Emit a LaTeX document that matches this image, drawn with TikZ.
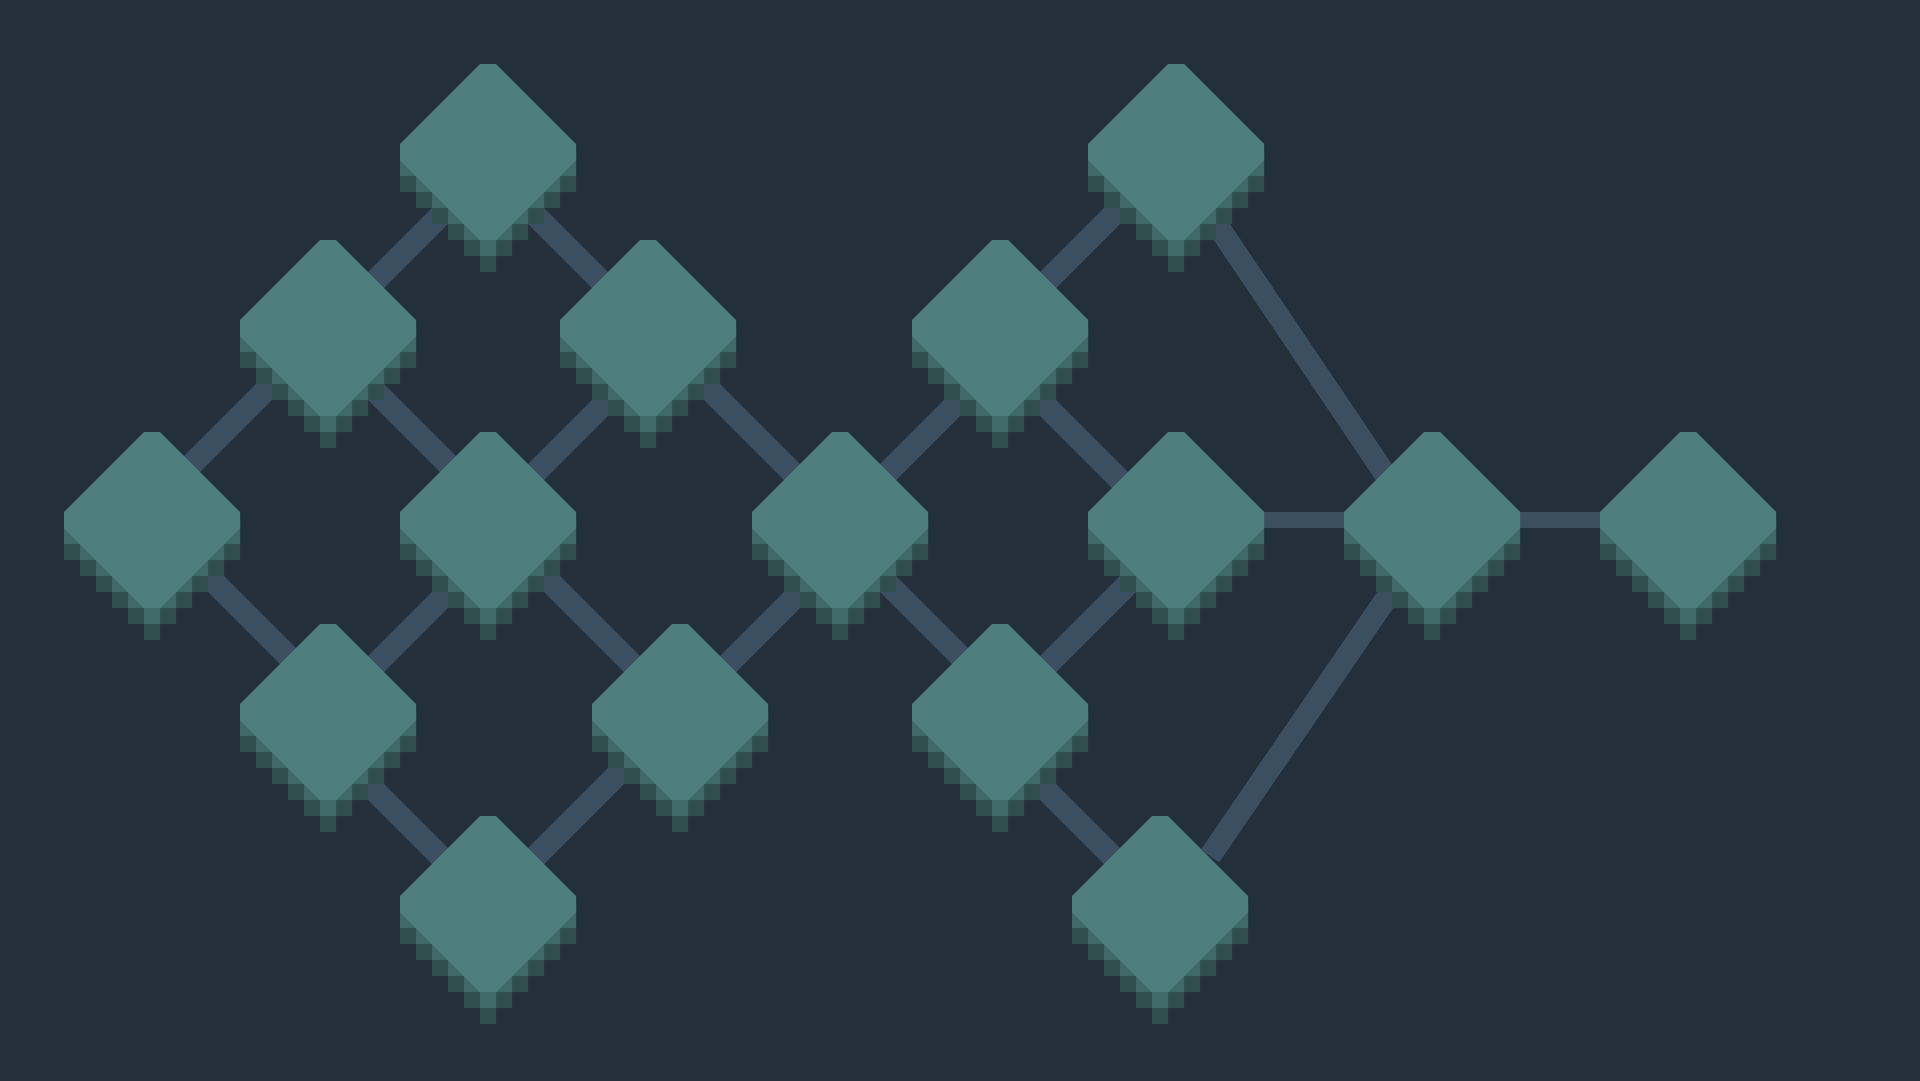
\documentclass[tikz,border=0pt]{standalone}
\usetikzlibrary{calc}
\definecolor{bgCol}{HTML}{232F3B}
\definecolor{linkCol}{HTML}{3B4F61}
\definecolor{tileFace}{HTML}{4E7F7E}
\definecolor{tileMid}{HTML}{3F6A69}
\definecolor{tileDark}{HTML}{2F4E4C}
\begin{document}
\begin{tikzpicture}[x=1pt, y=-1pt,
        link/.style={line width=22.6pt, draw=linkCol},
        flatlink/.style={line width=16pt, draw=linkCol}]
        \useasboundingbox (0,0) rectangle (1920,1080);
        \fill[bgCol] (-4,-4) rectangle (1924,1084);

        \foreach \v/\x/\y in
        {cD1Pt/488/152, cD2Pt/328/328, cD3Pt/648/328, cD4Pt/152/520,
            cD5Pt/488/520, cD6Pt/840/520, cD7Pt/328/712, cD8Pt/680/712,
            cD9Pt/488/904, cD10Pt/1176/152, cD11Pt/1000/328, cD12Pt/1176/520,
            cD13Pt/1000/712, cD14Pt/1160/904, cD15Pt/1432/520, cD16Pt/1688/520
        }
        {
            \coordinate (\v) at (\x,\y);
        };

        % links of the left lattice
        \draw[link] (cD2Pt) -- ($(cD1Pt)+(16,0)$);
        \draw[link] (cD3Pt) -- ($(cD1Pt)+(-16,0)$);
        \draw[link] (cD2Pt) -- ($(cD4Pt)+(-16,0)$);
        \draw[link] ($(cD2Pt)+(-16,0)$) -- ($(cD5Pt)+(16,0)$);
        \draw[link] (cD5Pt) -- ($(cD3Pt)+(32,0)$);
        \draw[link] (cD3Pt) -- (cD6Pt);
        \draw[link] (cD4Pt) -- ($(cD7Pt)+(16,0)$);
        \draw[link] (cD7Pt) -- ($(cD5Pt)+(32,0)$);
        \draw[link] (cD5Pt) -- (cD8Pt);
        \draw[link] (cD8Pt) -- ($(cD6Pt)+(32,0)$);
        \draw[link] (cD9Pt) -- ($(cD7Pt)+(-32,0)$);
        \draw[link] (cD8Pt) -- (cD9Pt);

        % links of the right part
        \draw[link] (cD6Pt) -- ($(cD11Pt)+(32,0)$);
        \draw[link] ($(cD6Pt)+(-16,0)$) -- ($(cD13Pt)+(16,0)$);
        \draw[link] (cD10Pt) -- (cD11Pt);
        \draw[link] ($(cD11Pt)+(-32,0)$) -- ($(cD12Pt)+(-16,0)$);
        \draw[link] (cD13Pt) -- ($(cD12Pt)+(16,0)$);
        \draw[link] (cD14Pt) -- ($(cD13Pt)+(-32,0)$);
        \draw[link, line width=22.2pt] ($(cD10Pt)+(-8,0)$) -- ($(cD15Pt)+(-16,0)$);
        \draw[flatlink] (cD12Pt) -- (cD15Pt);
        \draw[flatlink] (cD15Pt) -- (cD16Pt);

        \foreach \v in {cD1Pt, cD2Pt, cD3Pt, cD4Pt, cD5Pt, cD6Pt, cD7Pt,
            cD8Pt, cD9Pt, cD10Pt, cD11Pt, cD12Pt, cD13Pt, cD14Pt}
        {
            \fill[tileDark] (\v) ++(-88,0) -- ++(0,40)
                \foreach \i in {1,...,5} {-- ++(16,0) -- ++(0,16)}
                -- ++(16,0)
                \foreach \i in {1,...,5} {-- ++(0,-16) -- ++(16,0)}
                -- ++(0,-40) -- cycle;
            \fill[tileMid] (\v) ++(-88,0) -- ++(0,24)
                \foreach \i in {1,...,5} {-- ++(16,0) -- ++(0,16)}
                -- ++(16,0)
                \foreach \i in {1,...,5} {-- ++(0,-16) -- ++(16,0)}
                -- ++(0,-24) -- cycle;
            \fill[tileFace] (\v) ++(-8,-88) -- ++(16,0) -- ++(80,80) -- ++(0,16)
                -- ++(-80,80) -- ++(-16,0) -- ++(-80,-80) -- ++(0,-16) -- cycle;
        };

        % this one lies over its lower tile
        \draw[link, line width=22.2pt] ($(cD14Pt)+(50,-48)$) -- ($(cD15Pt)+(8,0)$);

        \foreach \v in {cD15Pt, cD16Pt}
        {
            \fill[tileDark] (\v) ++(-88,0) -- ++(0,40)
                \foreach \i in {1,...,5} {-- ++(16,0) -- ++(0,16)}
                -- ++(16,0)
                \foreach \i in {1,...,5} {-- ++(0,-16) -- ++(16,0)}
                -- ++(0,-40) -- cycle;
            \fill[tileMid] (\v) ++(-88,0) -- ++(0,24)
                \foreach \i in {1,...,5} {-- ++(16,0) -- ++(0,16)}
                -- ++(16,0)
                \foreach \i in {1,...,5} {-- ++(0,-16) -- ++(16,0)}
                -- ++(0,-24) -- cycle;
            \fill[tileFace] (\v) ++(-8,-88) -- ++(16,0) -- ++(80,80) -- ++(0,16)
                -- ++(-80,80) -- ++(-16,0) -- ++(-80,-80) -- ++(0,-16) -- cycle;
        };

\end{tikzpicture}
\end{document}
